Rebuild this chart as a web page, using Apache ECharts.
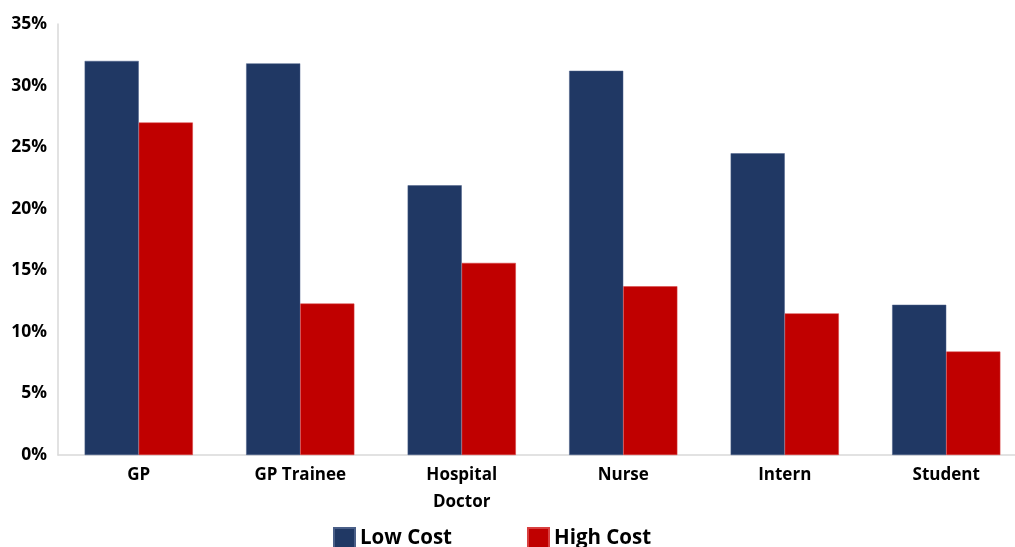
<!DOCTYPE html>
<html>
<head>
<meta charset="utf-8">
<script src="https://cdn.jsdelivr.net/npm/echarts@6/dist/echarts.min.js"></script>
<style>html,body{margin:0;padding:0;background:#fff;}#c{width:1015px;height:547px;}</style>
</head>
<body>
<div id="c"></div>
<script>
const categories = ['GP', 'GP Trainee', 'Hospital\nDoctor', 'Nurse', 'Intern', 'Student'];
const lowCost = [32.0, 31.8, 21.9, 31.2, 24.5, 12.2];
const highCost = [27.0, 12.3, 15.6, 13.7, 11.5, 8.4];
const yTicks = [0, 5, 10, 15, 20, 25, 30, 35];

const chart = echarts.init(document.getElementById('c'));
const font = '"Open Sans", "Liberation Sans", sans-serif';
chart.setOption({
  animation: false,
  grid: { left: 58, top: 24, width: 969, bottom: 92, outerBoundsMode: 'none', containLabel: false },
  legend: {
    data: ['Low Cost', 'High Cost'],
    left: 328, top: 522,
    itemWidth: 21, itemHeight: 21, itemGap: 75,
    icon: 'rect',
    textStyle: { fontFamily: font, fontWeight: 'bold', fontSize: 20.5, color: '#000' }
  },
  xAxis: {
    type: 'category',
    data: categories,
    axisLine: { lineStyle: { color: '#d9d9d9', width: 1.5 } },
    axisTick: { show: false },
    axisLabel: { fontFamily: font, fontWeight: 'bold', fontSize: 17, color: '#000', margin: 7, lineHeight: 27 }
  },
  yAxis: {
    type: 'value',
    min: 0, max: 35, interval: 5,
    axisLine: { show: true, lineStyle: { color: '#d9d9d9', width: 1.5 } },
    axisTick: { show: false },
    splitLine: { show: false },
    axisLabel: {
      fontFamily: font, fontWeight: 'bold', fontSize: 17.5, color: '#000', margin: 11,
      formatter: v => yTicks.includes(v) ? v + '%' : ''
    }
  },
  series: [
    { name: 'Low Cost', type: 'bar', data: lowCost, barGap: '0%', barCategoryGap: '33%',
      itemStyle: { color: '#203864', borderColor: '#4a5f88', borderWidth: 0.5 } },
    { name: 'High Cost', type: 'bar', data: highCost,
      itemStyle: { color: '#C00000', borderColor: '#d84040', borderWidth: 0.5 } }
  ]
});
</script>
</body>
</html>
